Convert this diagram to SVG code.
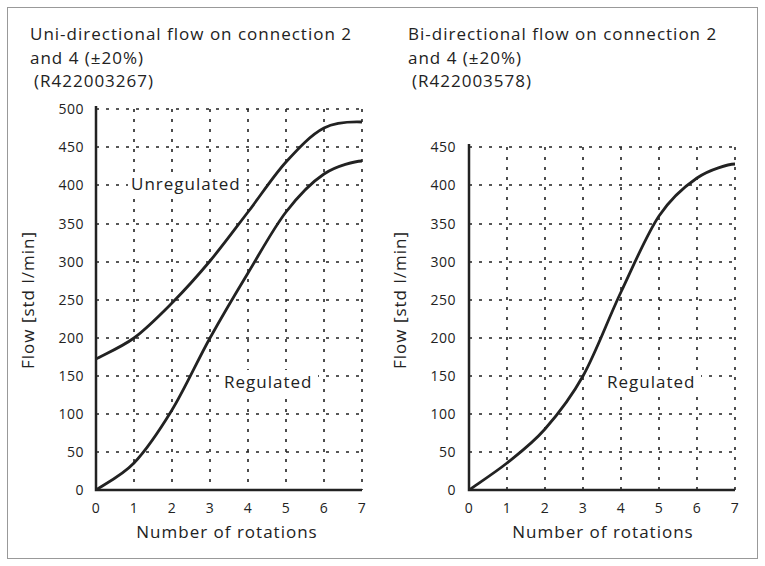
<svg xmlns="http://www.w3.org/2000/svg" width="765" height="566" viewBox="0 0 765 566">
<style>
text{font-family:"Open Sans","DejaVu Sans",sans-serif;fill:#222}
.t{font-size:17px;letter-spacing:1px}
.k{font-size:14px;letter-spacing:0.5px}
.yl{text-anchor:end}
.xl{text-anchor:middle}
.g{stroke:#222;stroke-width:1.6;stroke-dasharray:3 7;fill:none}
.ax{stroke:#222;stroke-width:2.5;fill:none}
.c{stroke:#222;stroke-width:2.8;fill:none}
</style>
<rect x="7.5" y="7.5" width="750" height="551" fill="#fff" stroke="#999"/>
<g id="chart-left">
<text class="t" x="30" y="40">Uni-directional flow on connection 2</text>
<text class="t" x="30" y="64">and 4 (±20%)</text>
<text class="t" x="34" y="87">(R422003267)</text>
<path class="g" d="M134 109V490M172 109V490M210 109V490M248 109V490M286 109V490M324 109V490M362 109V490M96 109H362M96 147H362M96 185H362M96 224H362M96 262H362M96 300H362M96 338H362M96 376H362M96 414H362M96 452H362"/>
<path class="ax" d="M96 106V490H362"/>
<g class="k yl"><text x="84" y="114">500</text><text x="84" y="152">450</text><text x="84" y="190">400</text><text x="84" y="229">350</text><text x="84" y="267">300</text><text x="84" y="305">250</text><text x="84" y="343">200</text><text x="84" y="381">150</text><text x="84" y="419">100</text><text x="84" y="457">50</text><text x="84" y="495">0</text></g>
<g class="k xl"><text x="96" y="513">0</text><text x="134" y="513">1</text><text x="172" y="513">2</text><text x="210" y="513">3</text><text x="248" y="513">4</text><text x="286" y="513">5</text><text x="324" y="513">6</text><text x="362" y="513">7</text></g>
<text class="t xl" x="227" y="538">Number of rotations</text>
<text class="t xl" transform="translate(34 300) rotate(-90)">Flow [std l/min]</text>
<rect x="128" y="172" width="118" height="24" fill="#fff"/>
<text class="t" x="131" y="190">Unregulated</text>
<rect x="222" y="370" width="96" height="24" fill="#fff"/>
<text class="t" x="224" y="388">Regulated</text>
</g>
<g id="chart-right">
<text class="t" x="408" y="40">Bi-directional flow on connection 2</text>
<text class="t" x="408" y="64">and 4 (±20%)</text>
<text class="t" x="412" y="87">(R422003578)</text>
<path class="g" d="M507 147V490M545 147V490M583 147V490M621 147V490M659 147V490M697 147V490M735 147V490M469 147H735M469 185H735M469 224H735M469 262H735M469 300H735M469 338H735M469 376H735M469 414H735M469 452H735"/>
<path class="ax" d="M469 144V490H735"/>
<g class="k yl"><text x="456" y="152">450</text><text x="456" y="190">400</text><text x="456" y="229">350</text><text x="456" y="267">300</text><text x="456" y="305">250</text><text x="456" y="343">200</text><text x="456" y="381">150</text><text x="456" y="419">100</text><text x="456" y="457">50</text><text x="456" y="495">0</text></g>
<g class="k xl"><text x="469" y="513">0</text><text x="507" y="513">1</text><text x="545" y="513">2</text><text x="583" y="513">3</text><text x="621" y="513">4</text><text x="659" y="513">5</text><text x="697" y="513">6</text><text x="735" y="513">7</text></g>
<text class="t xl" x="603" y="538">Number of rotations</text>
<text class="t xl" transform="translate(406 300) rotate(-90)">Flow [std l/min]</text>
<rect x="605" y="370" width="96" height="24" fill="#fff"/>
<text class="t" x="607" y="388">Regulated</text>
</g>
<g id="connectors">
<path class="c" d="M96 359C102 355.5 121.3 347.3 134 338C146.7 328.7 159.3 315.8 172 303C184.7 290.2 197.3 276.2 210 261C222.7 245.8 235.3 228.5 248 212C260.7 195.5 273.3 176 286 162C298.7 148 311.3 134.5 324 128C336.7 121.5 355.7 121.8 362 122"/>
<path class="c" d="M96 490C102 485.5 121.3 476.3 134 463C146.7 449.7 159.3 430.8 172 410C184.7 389.2 197.3 360.8 210 338C222.7 315.2 235.3 294 248 273C260.7 252 273.3 228.5 286 212C298.7 195.5 311.3 182.5 324 174C336.7 165.5 355.7 161.2 362 161"/>
<path class="c" d="M469 490C475 485.5 494.3 473.2 507 463C519.7 452.8 532.3 443.5 545 429C557.7 414.5 570.3 398.8 583 376C595.7 353.2 608.3 318.7 621 292C633.7 265.3 646.3 235 659 216C671.7 197 684.3 186.7 697 178C709.7 169.3 728.7 164.3 735 164"/>
</g>
</svg>
